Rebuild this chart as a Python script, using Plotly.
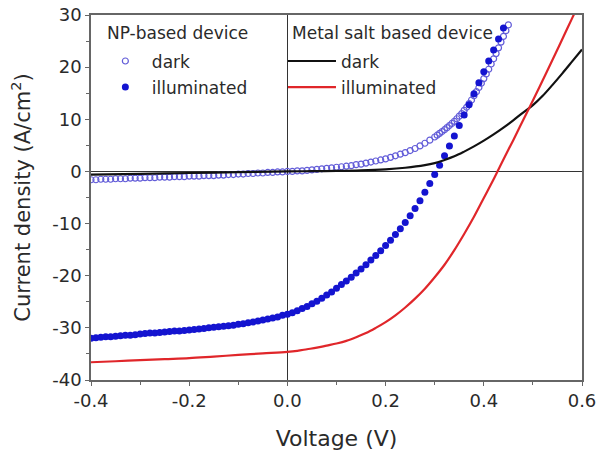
import plotly.graph_objects as go

# ---------------- data ----------------
V_NP_DARK = [-0.40, -0.39, -0.38, -0.37, -0.36, -0.35, -0.34, -0.33, -0.32, -0.31,
             -0.30, -0.29, -0.28, -0.27, -0.26, -0.25, -0.24, -0.23, -0.22, -0.21,
             -0.20, -0.19, -0.18, -0.17, -0.16, -0.15, -0.14, -0.13, -0.12, -0.11,
             -0.10, -0.09, -0.08, -0.07, -0.06, -0.05, -0.04, -0.03, -0.02, -0.01,
             0.00, 0.01, 0.02, 0.03, 0.04, 0.05, 0.06, 0.07, 0.08, 0.09,
             0.10, 0.11, 0.12, 0.13, 0.14, 0.15, 0.16, 0.17, 0.18, 0.19,
             0.20, 0.21, 0.22, 0.23, 0.24, 0.25, 0.26, 0.27, 0.28, 0.29,
             0.300, 0.305, 0.310, 0.315, 0.320, 0.325, 0.330, 0.335, 0.340, 0.345,
             0.350, 0.355, 0.360, 0.365, 0.370, 0.375, 0.380, 0.385, 0.390, 0.395,
             0.400, 0.405, 0.410, 0.415, 0.420, 0.425, 0.430, 0.435, 0.440, 0.445,
             0.450]
J_NP_DARK = [-1.6, -1.6, -1.5, -1.5, -1.5, -1.4, -1.4, -1.4, -1.3, -1.3,
             -1.3, -1.2, -1.2, -1.2, -1.1, -1.1, -1.1, -1.0, -1.0, -1.0,
             -0.9, -0.9, -0.9, -0.8, -0.8, -0.8, -0.7, -0.7, -0.6, -0.6,
             -0.5, -0.5, -0.4, -0.4, -0.3, -0.3, -0.2, -0.2, -0.1, -0.1,
             0.0, 0.0, 0.1, 0.1, 0.2, 0.3, 0.4, 0.5, 0.6, 0.7,
             0.8, 0.9, 1.0, 1.1, 1.3, 1.4, 1.6, 1.8, 2.0, 2.2,
             2.4, 2.7, 3.0, 3.3, 3.6, 4.0, 4.4, 4.9, 5.4, 6.0,
             6.6, 6.95, 7.3, 7.65, 8.0, 8.4, 8.8, 9.2, 9.6, 10.1,
             10.6, 11.1, 11.7, 12.3, 13.0, 13.7, 14.5, 15.3, 16.1, 16.9,
             17.8, 18.7, 19.6, 20.6, 21.6, 22.6, 23.7, 24.8, 25.9, 27.0,
             28.1]

V_NP_ILL = [-0.40, -0.39, -0.38, -0.37, -0.36, -0.35, -0.34, -0.33, -0.32, -0.31,
            -0.30, -0.29, -0.28, -0.27, -0.26, -0.25, -0.24, -0.23, -0.22, -0.21,
            -0.20, -0.19, -0.18, -0.17, -0.16, -0.15, -0.14, -0.13, -0.12, -0.11,
            -0.10, -0.09, -0.08, -0.07, -0.06, -0.05, -0.04, -0.03, -0.02, -0.01,
            0.00, 0.01, 0.02, 0.03, 0.04, 0.05, 0.06, 0.07, 0.08, 0.09,
            0.10, 0.11, 0.12, 0.13, 0.14, 0.15, 0.16, 0.17, 0.18, 0.19,
            0.20, 0.21, 0.22, 0.23, 0.24, 0.25, 0.26, 0.27, 0.28, 0.29,
            0.30, 0.31, 0.32, 0.33, 0.34, 0.35, 0.36, 0.37, 0.38, 0.39,
            0.40, 0.41, 0.42, 0.43, 0.44]
J_NP_ILL = [-32.0, -31.9, -31.8, -31.7, -31.7, -31.6, -31.5, -31.4, -31.4, -31.3,
            -31.2, -31.1, -31.0, -31.0, -30.9, -30.8, -30.7, -30.6, -30.6, -30.5,
            -30.4, -30.3, -30.2, -30.1, -30.0, -29.9, -29.8, -29.7, -29.6, -29.5,
            -29.3, -29.2, -29.0, -28.9, -28.7, -28.5, -28.3, -28.1, -27.9, -27.6,
            -27.4, -27.1, -26.7, -26.3, -25.9, -25.4, -24.9, -24.3, -23.7, -23.1,
            -22.4, -21.7, -21.0, -20.3, -19.5, -18.7, -17.9, -17.0, -16.1, -15.2,
            -14.2, -13.2, -12.1, -11.0, -9.8, -8.5, -7.1, -5.6, -4.0, -2.3,
            -0.6, 1.2, 3.0, 4.9, 6.8, 8.8, 10.8, 12.8, 14.9, 17.0,
            19.1, 21.2, 23.3, 25.4, 27.5]

V_MS_DARK = [-0.40, -0.30, -0.20, -0.10, 0.00, 0.05, 0.10, 0.15, 0.20, 0.24,
             0.28, 0.30, 0.32, 0.34, 0.36, 0.38, 0.40, 0.42, 0.44, 0.46,
             0.48, 0.50, 0.52, 0.54, 0.56, 0.58, 0.60]
J_MS_DARK = [-0.6, -0.45, -0.3, -0.15, 0.0, 0.05, 0.1, 0.2, 0.4, 0.7,
             1.2, 1.6, 2.2, 2.9, 3.8, 4.8, 5.9, 7.1, 8.4, 9.8,
             11.3, 12.7, 14.5, 16.6, 18.8, 21.1, 23.4]

V_MS_ILL = [-0.40, -0.35, -0.30, -0.25, -0.20, -0.15, -0.10, -0.05, 0.00, 0.02,
            0.04, 0.06, 0.08, 0.10, 0.12, 0.14, 0.16, 0.18, 0.20, 0.22,
            0.24, 0.26, 0.28, 0.30, 0.32, 0.34, 0.36, 0.38, 0.40, 0.42,
            0.44, 0.46, 0.48, 0.50, 0.52, 0.54, 0.56, 0.58, 0.60]
J_MS_ILL = [-36.6, -36.4, -36.2, -36.0, -35.8, -35.5, -35.2, -34.9, -34.6, -34.4,
            -34.1, -33.8, -33.4, -33.0, -32.5, -31.8, -31.0, -30.0, -28.9, -27.6,
            -26.1, -24.4, -22.5, -20.3, -17.9, -15.1, -12.0, -8.7, -5.1, -1.5,
            2.3, 6.0, 9.8, 13.6, 17.5, 21.4, 25.4, 29.4, 33.4]

X_TICKS = [-0.4, -0.2, 0.0, 0.2, 0.4, 0.6]
X_TICKTEXT = ["-0.4", "-0.2", "0.0", "0.2", "0.4", "0.6"]
Y_TICKS = [-40, -30, -20, -10, 0, 10, 20, 30]
Y_TICKTEXT = ["-40", "-30", "-20", "-10", "0", "10", "20", "30"]

NP_TITLE = "NP-based device"
MS_TITLE = "Metal salt based device"

# ---------------- figure ----------------
FONT = "DejaVu Sans"
TXT = "#2a2a2a"

fig = go.Figure()

fig.add_trace(go.Scatter(
    x=V_NP_DARK, y=J_NP_DARK, mode="markers", name="dark",
    legend="legend", legendgroup="np_dark",
    marker=dict(symbol="circle-open", size=6, color="#625cd8",
                line=dict(width=1.2, color="#625cd8")),
))
fig.add_trace(go.Scatter(
    x=V_NP_ILL, y=J_NP_ILL, mode="markers", name="illuminated",
    legend="legend", legendgroup="np_ill",
    marker=dict(symbol="circle", size=7, color="#1414d0"),
))
fig.add_trace(go.Scatter(
    x=V_MS_DARK, y=J_MS_DARK, mode="lines", name="dark",
    legend="legend2", legendgroup="ms_dark",
    line=dict(color="#111111", width=2.2, shape="spline"),
))
fig.add_trace(go.Scatter(
    x=V_MS_ILL, y=J_MS_ILL, mode="lines", name="illuminated",
    legend="legend2", legendgroup="ms_ill",
    line=dict(color="#e0262a", width=2.2, shape="spline"),
))

axis_common = dict(
    showline=True, linecolor="#666666", linewidth=1.5, mirror=True,
    showgrid=False, ticks="outside", ticklen=4, tickwidth=1, tickcolor="#666666",
    zeroline=True, zerolinecolor="#333333", zerolinewidth=1.2,
    tickfont=dict(family=FONT, size=18, color=TXT),
    tickmode="array", automargin=False, ticklabeloverflow="allow",
)

fig.update_xaxes(
    **axis_common,
    range=[-0.4, 0.6], tickvals=X_TICKS, ticktext=X_TICKTEXT,
    minor=dict(tickmode="linear", tick0=-0.4, dtick=0.1, ticks="outside",
               ticklen=3, tickcolor="#666666"),
    title=dict(text="Voltage (V)", font=dict(family=FONT, size=22, color=TXT),
               standoff=20),
)
fig.update_yaxes(
    **axis_common,
    range=[-40, 30], tickvals=Y_TICKS, ticktext=Y_TICKTEXT,
    minor=dict(tickmode="linear", tick0=-40, dtick=5, ticks="outside",
               ticklen=3, tickcolor="#666666"),
    title=dict(text="Current density (A/cm<sup>2</sup>)",
               font=dict(family=FONT, size=21, color=TXT), standoff=16),
)

legend_common = dict(
    bgcolor="rgba(0,0,0,0)", borderwidth=0,
    font=dict(family=FONT, size=17, color=TXT),
    xanchor="left", yanchor="top",
    traceorder="grouped", tracegroupgap=1,
)

fig.update_layout(
    width=596, height=455,
    margin=dict(l=91, r=14, t=15, b=75),
    paper_bgcolor="white", plot_bgcolor="white",
    font=dict(family=FONT, color=TXT),
    showlegend=True,
    legend=dict(**legend_common, x=0.016, y=0.922, itemwidth=43),
    legend2=dict(**legend_common, x=0.391, y=0.922, itemwidth=48),
    annotations=[
        dict(text=NP_TITLE, xref="paper", yref="paper", x=0.0285, y=0.9507,
             xanchor="left", yanchor="middle", showarrow=False,
             font=dict(family=FONT, size=17, color=TXT)),
        dict(text=MS_TITLE, xref="paper", yref="paper", x=0.4053, y=0.9507,
             xanchor="left", yanchor="middle", showarrow=False,
             font=dict(family=FONT, size=17, color=TXT)),
    ],
)

fig.write_html("out.html", config={"displayModeBar": False},
               post_script="document.body.style.margin='0px';")
